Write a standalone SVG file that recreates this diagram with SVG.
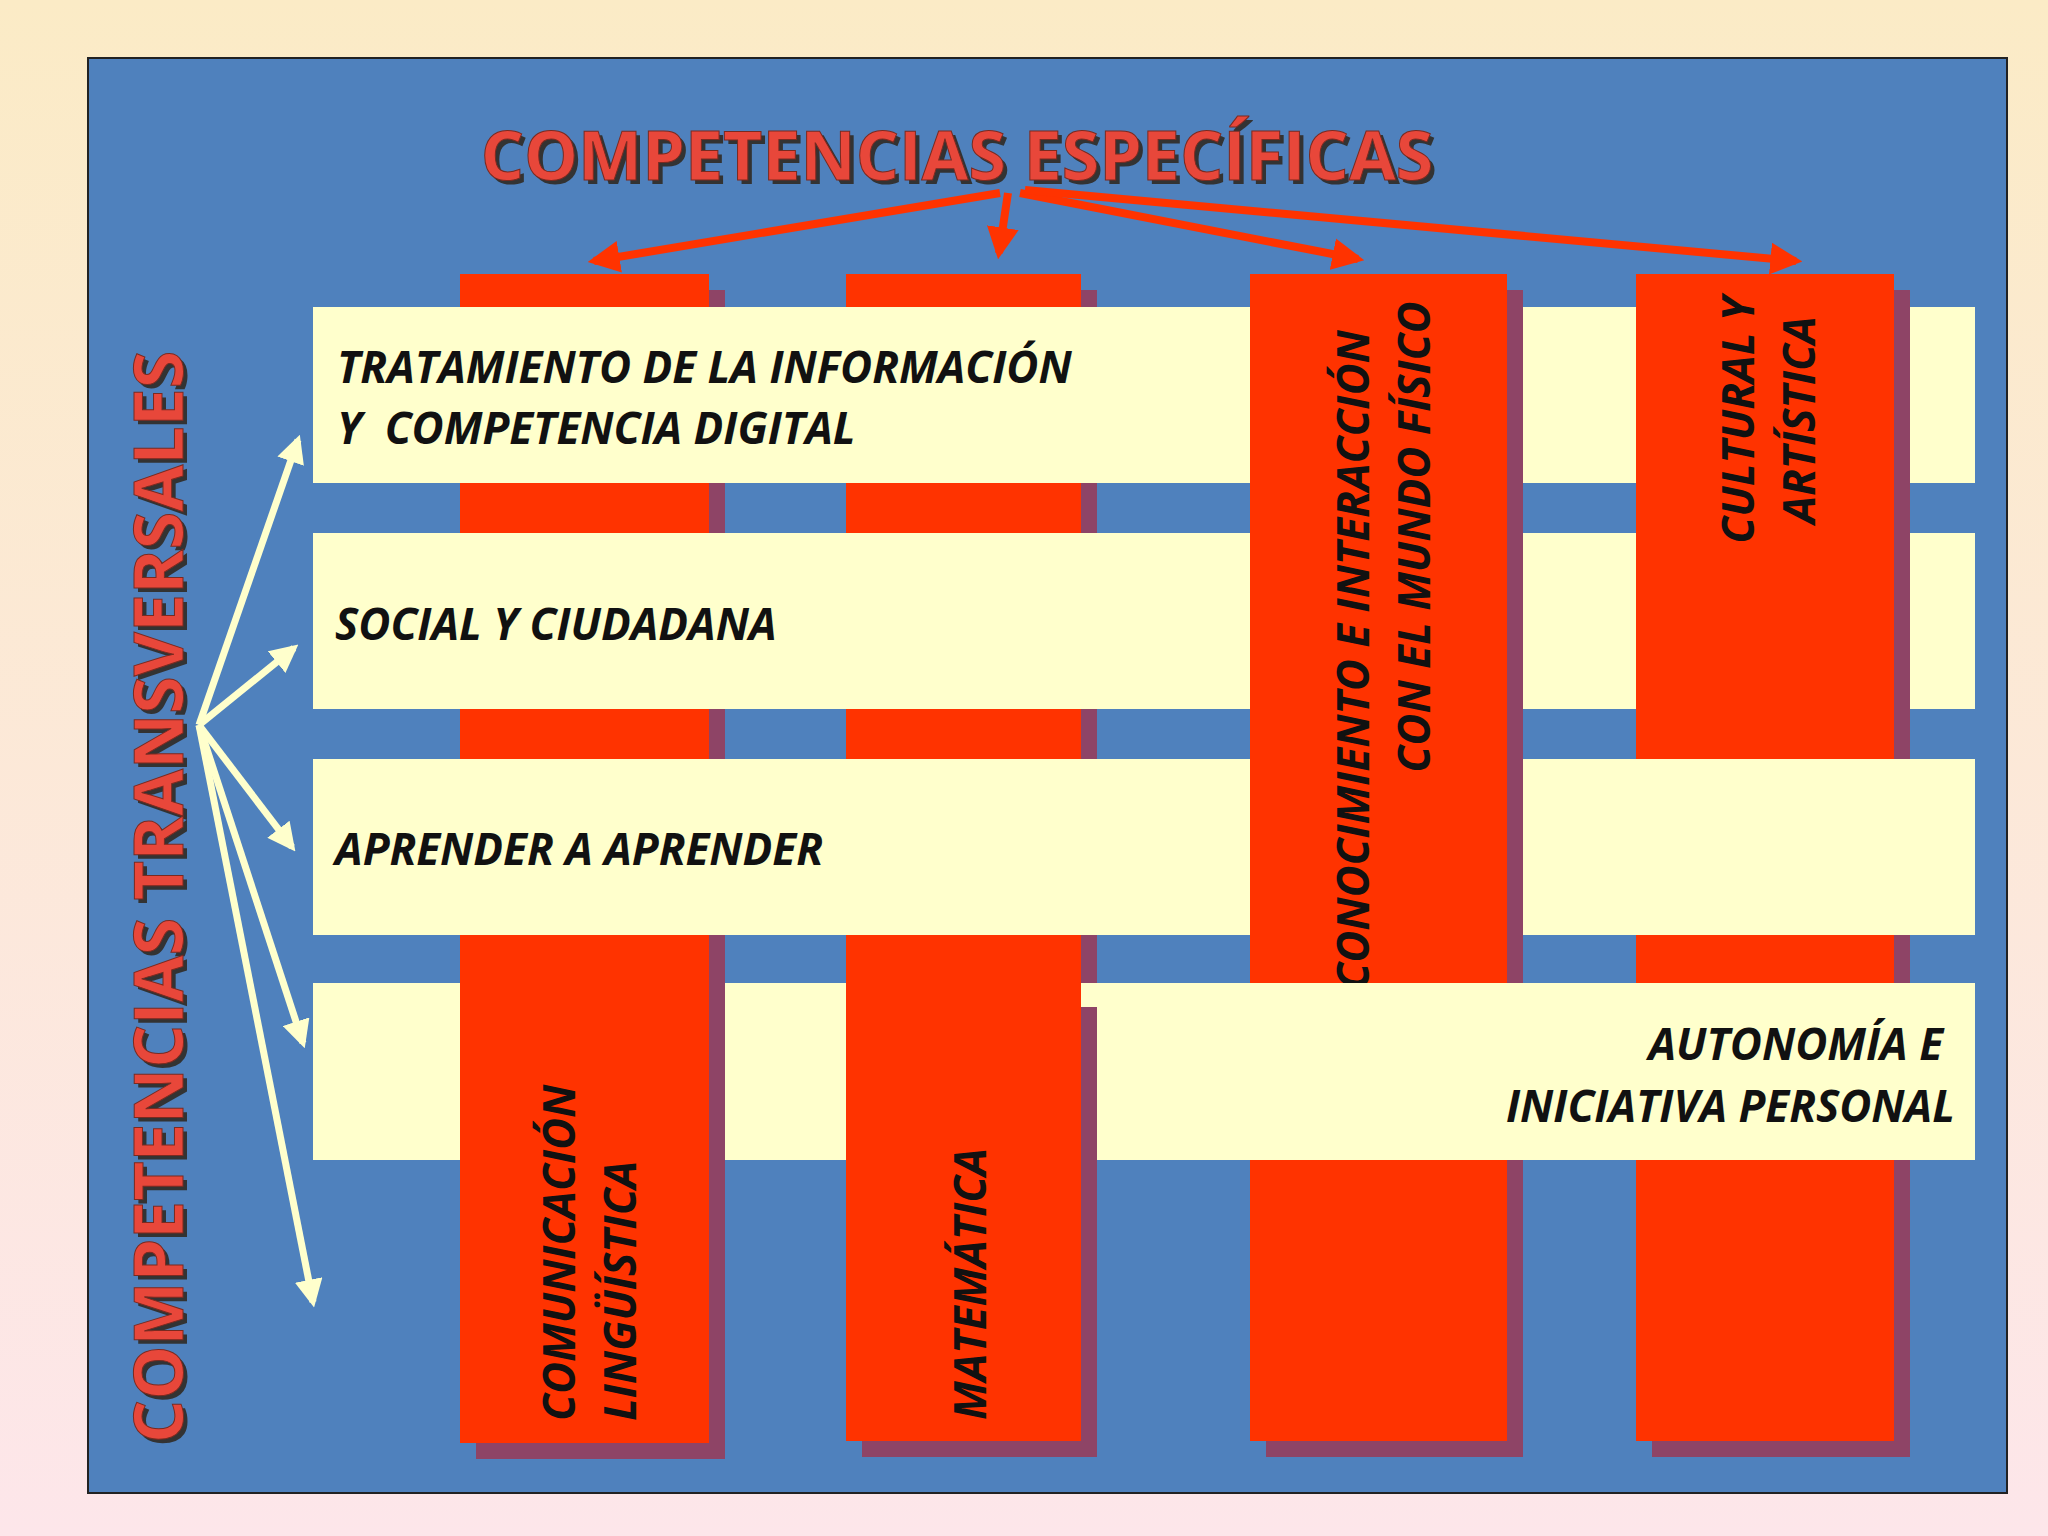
<svg xmlns="http://www.w3.org/2000/svg" width="2048" height="1536" viewBox="0 0 2048 1536">
<defs>
<linearGradient id="bg" x1="0" y1="0" x2="0" y2="1"><stop offset="0" stop-color="#FBEBC6"/><stop offset="1" stop-color="#FDE6EA"/></linearGradient>
<marker id="ar" viewBox="0 0 10 10" refX="8" refY="5" markerWidth="4" markerHeight="4" orient="auto"><path d="M0,0 L10,5 L0,10 z" fill="#FF3300"/></marker>
<marker id="aw" viewBox="0 0 10 10" refX="8" refY="5" markerWidth="4" markerHeight="4" orient="auto"><path d="M0,0 L10,5 L0,10 z" fill="#FFFFCC"/></marker>
</defs>
<style>
.col{fill:#FF3300}.sh{fill:#8E4466}.band{fill:#FFFFCC}
.t{font-family:"Open Sans","Liberation Sans",sans-serif;font-weight:bold;font-style:italic;font-size:44px;fill:#111}
.big{font-family:"Open Sans","Liberation Sans",sans-serif;font-weight:bold;font-size:68px;fill:#E8473A;stroke:#7a2a20;stroke-width:1}
.ra{stroke:#FF3300;stroke-width:8;fill:none;marker-end:url(#ar)}
.wa{stroke:#FFFFCC;stroke-width:7;fill:none;marker-end:url(#aw)}
</style>
<rect width="2048" height="1536" fill="url(#bg)"/>
<rect x="88" y="58" width="1919" height="1435" fill="#4F81BD" stroke="#222" stroke-width="2"/>
<g id="title"><text x="961" y="184" text-anchor="middle" class="big" style="fill:#333;stroke:none">COMPETENCIAS ESPECÍFICAS</text><text x="957" y="180" text-anchor="middle" class="big">COMPETENCIAS ESPECÍFICAS</text></g>
<g id="col1"><rect class="sh" x="476" y="290" width="249" height="1169"/><rect class="col" x="460" y="274" width="249" height="1169"/></g>
<g id="col2"><rect class="sh" x="862" y="290" width="235" height="1167"/><rect class="col" x="846" y="274" width="235" height="1167"/></g>
<g id="band1"><rect class="band" x="313" y="307" width="1662" height="176"/><text class="t" x="337" y="383">TRATAMIENTO DE LA INFORMACIÓN</text><text class="t" x="337" y="444" xml:space="preserve">Y  COMPETENCIA DIGITAL</text></g>
<g id="band2"><rect class="band" x="313" y="533" width="1662" height="176"/><text class="t" x="335" y="640">SOCIAL Y CIUDADANA</text></g>
<g id="col4"><rect class="sh" x="1652" y="290" width="258" height="1167"/><rect class="col" x="1636" y="274" width="258" height="1167"/>
<text class="t" transform="translate(1754,420) rotate(-90)" text-anchor="middle">CULTURAL Y</text><text class="t" transform="translate(1815,420) rotate(-90)" text-anchor="middle">ARTÍSTICA</text></g>
<g id="band3"><rect class="band" x="313" y="759" width="1662" height="176"/><text class="t" x="335" y="865">APRENDER A APRENDER</text></g>
<g id="col3"><rect class="sh" x="1266" y="290" width="257" height="1167"/><rect class="col" x="1250" y="274" width="257" height="1167"/>
<text class="t" transform="translate(1369,660) rotate(-90)" text-anchor="middle">CONOCIMIENTO E INTERACCIÓN</text><text class="t" transform="translate(1430,537) rotate(-90)" text-anchor="middle">CON EL MUNDO FÍSICO</text></g>
<g id="band4"><rect class="band" x="313" y="983" width="1662" height="177"/><text class="t" x="1943" y="1060" text-anchor="end">AUTONOMÍA E</text><text class="t" x="1955" y="1122" text-anchor="end">INICIATIVA PERSONAL</text></g>
<g id="col1b"><rect class="sh" x="476" y="983" width="249" height="476"/><rect class="col" x="460" y="983" width="249" height="460"/>
<text class="t" transform="translate(575,1421) rotate(-90)">COMUNICACIÓN</text><text class="t" transform="translate(636,1421) rotate(-90)">LINGÜÍSTICA</text></g>
<g id="col2b"><rect class="sh" x="862" y="1007" width="235" height="450"/><rect class="col" x="846" y="983" width="235" height="458"/>
<text class="t" transform="translate(986,1420) rotate(-90)">MATEMÁTICA</text></g>
<g id="transv"><text class="big" transform="translate(187,901) rotate(-90)" text-anchor="middle" style="fill:#333;stroke:none">COMPETENCIAS TRANSVERSALES</text><text class="big" transform="translate(183,897) rotate(-90)" text-anchor="middle">COMPETENCIAS TRANSVERSALES</text></g>
<g id="connectors">
<path class="ra" d="M1000,193 L594,261"/>
<path class="ra" d="M1008,193 L999,253"/>
<path class="ra" d="M1020,193 L1358,259"/>
<path class="ra" d="M1025,190 L1796,261"/>
<path class="wa" d="M199,725 L298,440"/>
<path class="wa" d="M199,725 L294,648"/>
<path class="wa" d="M199,725 L292,847"/>
<path class="wa" d="M199,725 L303,1043"/>
<path class="wa" d="M199,725 L313,1302"/>
</g>
</svg>
